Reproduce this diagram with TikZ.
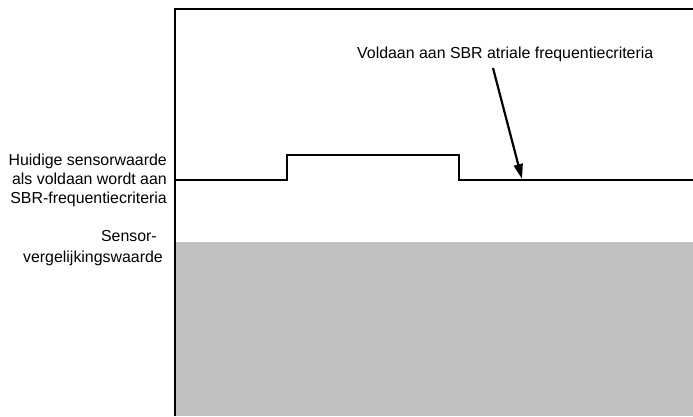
\documentclass[tikz,border=0pt]{standalone}
\usepackage{fontspec}
\setmainfont{Liberation Sans}
\usetikzlibrary{arrows.meta}
\definecolor{zonegray}{RGB}{192,192,192}
\tikzset{
  frameline/.style  = {line width=2.2pt},
  sensorline/.style = {line width=2.2pt,line join=miter},
  pointer/.style    = {-{Triangle[length=15pt,width=9pt]},line width=2.2pt},
  sidelabel/.style  = {font=\fontsize{15.9}{19}\selectfont,align=right,anchor=east,inner sep=0pt},
  toplabel/.style   = {font=\fontsize{15.9}{19}\selectfont,anchor=west,inner sep=0pt}
}

\begin{document}
\begin{tikzpicture}[x=1pt,y=-1pt]
  \useasboundingbox (0,0) rectangle (693,416);
  % comparison zone
  \fill[zonegray] (175,242) rectangle (693,416);
  \draw[frameline] (693,9) -- (175,9) -- (175,416);
  % sensor value trace
  \coordinate (s0) at (175,180);
  \coordinate (s1) at (287,180);
  \coordinate (s2) at (287,155);
  \coordinate (s3) at (459,155);
  \coordinate (s4) at (459,180);
  \coordinate (s5) at (693,180);
  \draw[sensorline] (s0) -- (s1) -- (s2) -- (s3) -- (s4) -- (s5);
  % labels
  \node[sidelabel] (current) at (167,180) {Huidige sensorwaarde\\als voldaan wordt aan\\SBR-frequentiecriteria};
  \node[sidelabel,font=\fontsize{15.9}{20.5}\selectfont] (compare) at (163,248) {Sensor-\hspace*{6pt}\\vergelijkingswaarde};
  \node[toplabel]  (met)     at (357,54) {Voldaan aan SBR atriale frequentiecriteria};
  \coordinate (tail) at (493,68);
  \coordinate (hit)  at (522,179);
  \draw[pointer] (tail) -- (hit);
\end{tikzpicture}
\end{document}
